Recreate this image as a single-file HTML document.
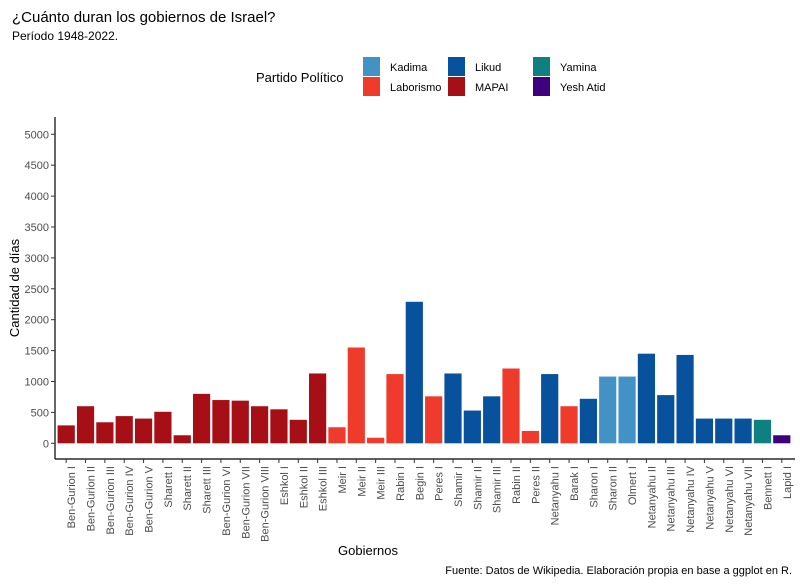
<!DOCTYPE html>
<html><head><meta charset="utf-8"><style>
body{margin:0;background:#fff;}
svg text{font-family:"Liberation Sans",Arial,sans-serif;}
</style></head><body>
<svg id="chart" width="800" height="582" xmlns="http://www.w3.org/2000/svg">
<text x="12" y="22" font-size="15" fill="#000">¿Cuánto duran los gobiernos de Israel?</text>
<text x="12" y="40" font-size="12" fill="#000">Período 1948-2022.</text>
<g>
<text x="256" y="82" font-size="13" fill="#000">Partido Político</text>
</g>
<g id="plot"></g>
<text x="338" y="555" font-size="13" fill="#000">Gobiernos</text>
<text transform="translate(19,288) rotate(-90)" text-anchor="middle" font-size="13" fill="#000">Cantidad de días</text>
<text x="792" y="574" text-anchor="end" font-size="11" fill="#000">Fuente: Datos de Wikipedia. Elaboración propia en base a ggplot en R.</text>
</svg>
<script>
const categories=["Ben-Gurion I","Ben-Gurion II","Ben-Gurion III","Ben-Gurion IV","Ben-Gurion V","Sharett I","Sharett II","Sharett III","Ben-Gurion VI","Ben-Gurion VII","Ben-Gurion VIII","Eshkol I","Eshkol II","Eshkol III","Meir I","Meir II","Meir III","Rabin I","Begin I","Peres I","Shamir I","Shamir II","Shamir III","Rabin II","Peres II","Netanyahu I","Barak I","Sharon I","Sharon II","Olmert I","Netanyahu II","Netanyahu III","Netanyahu IV","Netanyahu V","Netanyahu VI","Netanyahu VII","Bennett I","Lapid I"];
const days=[290,600,340,440,400,510,130,800,700,690,600,550,380,1130,260,1550,90,1120,2290,760,1130,530,760,1210,200,1120,600,720,1080,1080,1450,780,1430,400,400,400,380,130];
const parties=["MAPAI","MAPAI","MAPAI","MAPAI","MAPAI","MAPAI","MAPAI","MAPAI","MAPAI","MAPAI","MAPAI","MAPAI","MAPAI","MAPAI","Laborismo","Laborismo","Laborismo","Laborismo","Likud","Laborismo","Likud","Likud","Likud","Laborismo","Laborismo","Likud","Laborismo","Likud","Kadima","Kadima","Likud","Likud","Likud","Likud","Likud","Likud","Yamina","Yesh Atid"];
const legendParties=["Kadima","Laborismo","Likud","MAPAI","Yamina","Yesh Atid"];
const yTicks=[0,500,1000,1500,2000,2500,3000,3500,4000,4500,5000];
const colors={"Kadima":"#4292c6","Laborismo":"#ef3b2c","Likud":"#08519c","MAPAI":"#a50f15","Yamina":"#0e8080","Yesh Atid":"#3f007d"};
const NS="http://www.w3.org/2000/svg";
const svg=document.getElementById('chart');const plot=document.getElementById('plot');
const x0=66.2,step=19.34,bw=17.2;
const y=v=>443.3-v*0.0618;
const xc=i=>x0+i*step;
function mk(tag,attrs,parent){const e=document.createElementNS(NS,tag);for(const k in attrs)e.setAttribute(k,attrs[k]);(parent||plot).appendChild(e);return e;}
const ya=mk('line',{x1:55,y1:117,x2:55,y2:459,stroke:'#000','stroke-width':1.2});


const xa=mk('line',{x1:55,y1:459,x2:795,y2:459,stroke:'#000','stroke-width':1.2});


yTicks.forEach(t=>{
  const tk=mk('line',{x1:51,x2:55,y1:y(t),y2:y(t),stroke:'#333'});
  
  
  const tl=mk('text',{x:49,y:y(t)+4,'text-anchor':'end','font-size':11,fill:'#4d4d4d'});
  tl.textContent=t;
  
  
});
categories.forEach((c,i)=>{
  const r=mk('rect',{x:xc(i)-bw/2,y:y(days[i]),width:bw,height:y(0)-y(days[i]),fill:colors[parties[i]]});
  
  
  const tk=mk('line',{x1:xc(i),x2:xc(i),y1:459,y2:463,stroke:'#333'});
  
  
  const tl=mk('text',{transform:`translate(${xc(i)+9},466) rotate(-90)`,'text-anchor':'end','font-size':11,fill:'#4d4d4d'});
  tl.textContent=c;
  
  
});
legendParties.forEach((p,i)=>{
  const col=Math.floor(i/2),row=i%2;
  const lx=363+col*85,ly=57+row*20;
  const r=mk('rect',{x:lx,y:ly,width:17,height:19,fill:colors[p]},svg);
  
  
  const t=mk('text',{x:lx+27,y:ly+14,'font-size':11,fill:'#000'},svg);
  t.textContent=p;
  
  
});
</script>
</body></html>
